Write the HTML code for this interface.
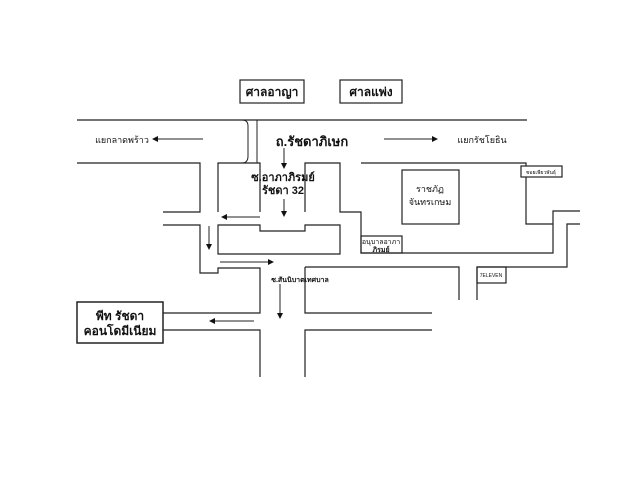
<!DOCTYPE html>
<html><head><meta charset="utf-8"><style>
body{margin:0;background:#fff;}
svg{display:block}
text{font-family:"Liberation Sans","Noto Sans CJK SC",sans-serif;fill:#111}
</style></head><body>
<svg width="640" height="480" viewBox="0 0 640 480" xmlns="http://www.w3.org/2000/svg">
<defs><marker id="a" markerWidth="6" markerHeight="6" refX="5" refY="3" orient="auto"><path d="M0,0 L6,3 L0,6 z" fill="#111"/></marker></defs>
<g fill="none" stroke="#222" stroke-width="1.2">
<rect x="240" y="80" width="64" height="23"/>
<rect x="340" y="80" width="62" height="23"/>
<line x1="77" y1="120" x2="527" y2="120"/>
<path d="M242,120 q6,0 6,6 v30 q0,7 -6,7 M257,120 v43" stroke-width="1"/>
<path d="M77,163 H200 V212 H163"/>
<path d="M163,225 H200 V273 H218 V268 H260 V313 H163"/>
<path d="M163,330 H260 V377"/>
<path d="M218,212 V163 H260 V212"/>
<path d="M305,212 V163 H340 V212 H361 V253 H553 V211 H580"/>
<path d="M218,225 H260 V231 H305 V225 H340 V254 H218 Z"/>
<path d="M361,163 H526 V224 H553"/>
<path d="M580,224 H567 V267 H477 V300"/>
<path d="M305,267 H459 V300"/>
<path d="M305,377 V330 H432 M432,313 H305 V267"/>
<rect x="402" y="170" width="57" height="54"/>
<rect x="361" y="236" width="41" height="17"/>
<rect x="477" y="267" width="29" height="16"/>
<rect x="521" y="166" width="41" height="11" fill="#fff"/>
<rect x="77" y="302" width="86" height="41" stroke-width="1.5"/>
</g>
<g stroke="#222" stroke-width="1" marker-end="url(#a)">
<line x1="203" y1="139" x2="153" y2="139"/>
<line x1="384" y1="139" x2="437" y2="139"/>
<line x1="284" y1="148" x2="284" y2="168"/>
<line x1="284" y1="199" x2="284" y2="216"/>
<line x1="260" y1="217" x2="222" y2="217"/>
<line x1="209" y1="226" x2="209" y2="249"/>
<line x1="220" y1="262" x2="273" y2="262"/>
<line x1="280" y1="284" x2="280" y2="318"/>
<line x1="254" y1="321" x2="210" y2="321"/>
</g>
<g font-size="12" font-weight="bold" text-anchor="middle">
<text x="272" y="96">ศาลอาญา</text>
<text x="371" y="96">ศาลแพ่ง</text>
<text x="312" y="146" font-size="13">ถ.รัชดาภิเษก</text>
<text x="283" y="181" font-size="11">ซ.อาภาภิรมย์</text>
<text x="283" y="194" font-size="11">รัชดา 32</text>
<text x="120" y="320">พีท รัชดา</text>
<text x="120" y="335">คอนโดมีเนียม</text>
</g>
<g font-size="9" text-anchor="middle">
<text x="122" y="143">แยกลาดพร้าว</text>
<text x="482" y="143">แยกรัชโยธิน</text>
<text x="430" y="192">ราชภัฏ</text>
<text x="430" y="205">จันทรเกษม</text>
<text x="381" y="244" font-size="7">อนุบาลอาภา</text>
<text x="381" y="252" font-size="7" font-weight="bold">ภิรมย์</text>
<text x="300" y="282" font-size="7" font-weight="bold">ซ.สันนิบาตเทศบาล</text>
<text x="491" y="277" font-size="5">7ELEVEN</text>
<text x="541" y="174" font-size="5">ซอยเพียวพันธุ์</text>
</g>
</svg>
</body></html>
